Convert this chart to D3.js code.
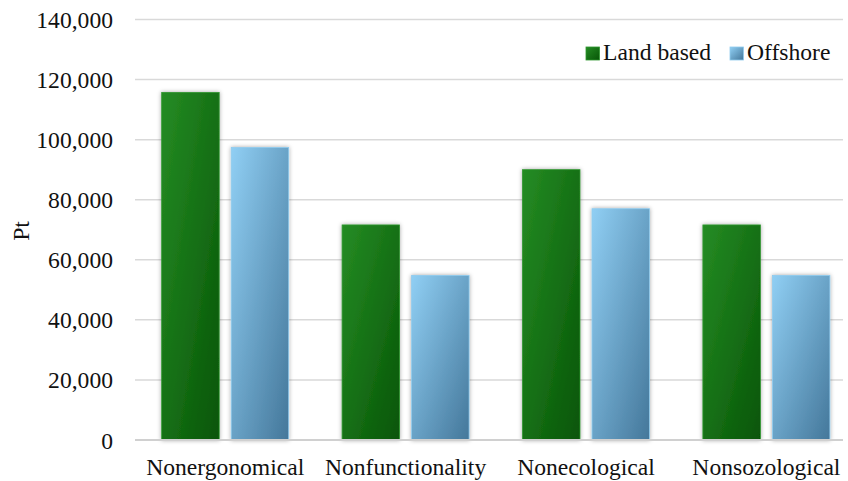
<!DOCTYPE html>
<html>
<head>
<meta charset="utf-8">
<script src="https://cdn.jsdelivr.net/npm/d3@7"></script>
<style>
  html, body { margin: 0; padding: 0; background: #fff; }
  svg { display: block; font-family: "Liberation Serif", "Times New Roman", serif; }
</style>
</head>
<body>
<svg id="chart" width="848" height="481"></svg>
<script>
// Impact scores (Pt) per category, land based vs offshore
const categories = ["Nonergonomical", "Nonfunctionality", "Nonecological", "Nonsozological"];
const seriesNames = ["Land based", "Offshore"];
const landBased = [115700, 71600, 90000, 71600];
const offshore = [97400, 54800, 77000, 54800];
const yTicks = [0, 20000, 40000, 60000, 80000, 100000, 120000, 140000];

const svg = d3.select("#chart");
const plotTop = 19.5, plotBottom = 440, plotLeft = 135, gridRight = 843;
const fontSize = 23.6;

const y = d3.scaleLinear().domain([0, 140000]).range([plotBottom, plotTop]);
const x0 = d3.scaleBand().domain(categories).range([plotLeft, plotLeft + 4 * 180.4]);
const x1 = d3.scaleBand().domain(seriesNames)
  .range([26.7, x0.bandwidth() - 26.7]).paddingInner(0.173);

const defs = svg.append("defs");
function grad(id, c1, c2) {
  const g = defs.append("linearGradient").attr("id", id)
    .attr("x1", 0).attr("y1", 0).attr("x2", 1).attr("y2", 1);
  g.append("stop").attr("offset", "0%").attr("stop-color", c1);
  g.append("stop").attr("offset", "100%").attr("stop-color", c2);
}
grad("gGreen", "#258c24", "#075507");
grad("gBlue", "#90cff4", "#44779a");
const f = defs.append("filter").attr("id", "shadow")
  .attr("x", "-20%").attr("y", "-10%").attr("width", "140%").attr("height", "120%");
f.append("feDropShadow").attr("dx", 0).attr("dy", 0).attr("stdDeviation", 2.2)
  .attr("flood-color", "#000").attr("flood-opacity", 0.35);

// Gridlines
svg.append("g").selectAll("line").data(yTicks.filter(d => d > 0)).join("line")
  .attr("x1", plotLeft).attr("x2", gridRight)
  .attr("y1", d => y(d)).attr("y2", d => y(d))
  .attr("stroke", "#d9d9d9").attr("stroke-width", 1.5);

// Y axis labels
const yAxis = d3.axisLeft(y).tickValues(yTicks).tickSize(0).tickPadding(0)
  .tickFormat(d3.format(","));
svg.append("g").attr("transform", `translate(113,0)`).call(yAxis)
  .call(g => g.select(".domain").remove())
  .call(g => g.selectAll("text").attr("font-size", fontSize).attr("fill", "#111")
    .attr("font-family", "Liberation Serif").attr("dy", "0.34em"));

// Bars
const colors = { "Land based": "url(#gGreen)", "Offshore": "url(#gBlue)" };
const strokes = { "Land based": "#2f962f", "Offshore": "#8fcbee" };
const rows = categories.map((c, i) => ({ cat: c, vals: [
  { s: "Land based", v: landBased[i] }, { s: "Offshore", v: offshore[i] }] }));

svg.append("g").selectAll("g").data(rows).join("g")
  .attr("transform", d => `translate(${x0(d.cat)},0)`)
  .selectAll("rect").data(d => d.vals).join("rect")
  .attr("x", d => x1(d.s)).attr("width", x1.bandwidth())
  .attr("y", d => y(d.v)).attr("height", d => y(0) - y(d.v))
  .attr("fill", d => colors[d.s]).attr("stroke", d => strokes[d.s])
  .attr("stroke-width", 0.8).attr("filter", "url(#shadow)");

// Baseline
svg.append("line").attr("x1", plotLeft).attr("x2", gridRight)
  .attr("y1", y(0)).attr("y2", y(0))
  .attr("stroke", "#d0d0d0").attr("stroke-width", 2);

// X labels
svg.append("g").selectAll("text").data(categories).join("text")
  .attr("x", d => x0(d) + x0.bandwidth() / 2).attr("y", 475)
  .attr("text-anchor", "middle").attr("font-size", fontSize).attr("fill", "#111")
  .text(d => d);

// Y title
svg.append("text").attr("transform", "translate(29,231) rotate(-90)")
  .attr("text-anchor", "middle").attr("font-size", fontSize).attr("fill", "#111")
  .text("Pt");

// Legend
const legendPos = [{ s: "Land based", x: 586 }, { s: "Offshore", x: 730 }];
const lg = svg.append("g").selectAll("g").data(legendPos).join("g")
  .attr("transform", d => `translate(${d.x},47)`);
lg.append("rect").attr("width", 13.5).attr("height", 13)
  .attr("fill", d => colors[d.s]).attr("stroke", d => strokes[d.s]).attr("stroke-width", 0.8);
lg.append("text").attr("x", 17).attr("y", 13).attr("font-size", fontSize).attr("fill", "#111")
  .text(d => d.s);
</script>
</body>
</html>
